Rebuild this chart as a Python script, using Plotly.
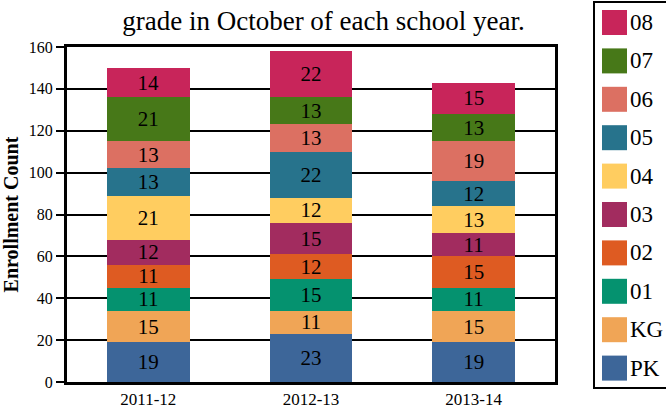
import plotly.graph_objects as go

years = ["2011-12", "2012-13", "2013-14"]
grades = ["PK", "KG", "01", "02", "03", "04", "05", "06", "07", "08"]
pk = [19, 23, 19]
kg = [15, 11, 15]
g01 = [11, 15, 11]
g02 = [11, 12, 15]
g03 = [12, 15, 11]
g04 = [21, 12, 13]
g05 = [13, 22, 12]
g06 = [13, 13, 19]
g07 = [21, 13, 13]
g08 = [14, 22, 15]
series = [pk, kg, g01, g02, g03, g04, g05, g06, g07, g08]
colors = ["#3D6699", "#F0A556", "#05926F", "#DE5B22", "#A22C5F",
          "#FFCD60", "#27738C", "#DC7062", "#477818", "#C8255A"]

W, H = 666, 410
L, R, T, B = 67, 111, 47, 28
pw, ph = W - L - R, H - T - B
FONT = "Liberation Serif"

def px2paper(x, y):
    return (x - L) / pw, (H - B - y) / ph

fig = go.Figure()
for g, vals, c in zip(grades, series, colors):
    fig.add_trace(go.Bar(
        x=years, y=vals, name=g, marker=dict(color=c, line=dict(width=0)),
        text=vals, textposition="inside", insidetextanchor="middle",
        textangle=0, constraintext="none",
        textfont=dict(family=FONT, size=21, color="black"),
        showlegend=False, hoverinfo="skip",
    ))

shapes = []
annotations = []
# legend box
x0, y0 = px2paper(594, 2)
x1, y1 = px2paper(700, 388)
shapes.append(dict(type="rect", xref="paper", yref="paper", x0=x0, x1=x1, y0=y1, y1=y0,
                   line=dict(color="black", width=2), fillcolor="white", layer="above"))
for i, (g, c) in enumerate(reversed(list(zip(grades, colors)))):
    top = 10 + i * 38.4
    sx0, sy0 = px2paper(602, top)
    sx1, sy1 = px2paper(627, top + 25)
    shapes.append(dict(type="rect", xref="paper", yref="paper", x0=sx0, x1=sx1, y0=sy1, y1=sy0,
                       line=dict(width=0), fillcolor=c, layer="above"))
    ax, ay = px2paper(628, top + 12.5)
    annotations.append(dict(text=g, xref="paper", yref="paper", x=ax, y=ay,
                            xanchor="left", yanchor="middle", showarrow=False,
                            font=dict(family=FONT, size=23, color="black")))

fig.update_layout(
    width=W, height=H, barmode="stack", bargap=0.49,
    margin=dict(l=L, r=R, t=T, b=B, autoexpand=False),
    paper_bgcolor="white", plot_bgcolor="white",
    font=dict(family=FONT, color="black"),
    title=dict(text="grade in October of each school year.", x=323.5 / W, xanchor="center",
               y=1 - 21 / H, yanchor="middle", font=dict(family=FONT, size=27, color="black")),
    shapes=shapes, annotations=annotations,
)
fig.update_xaxes(type="category", showline=True, linewidth=3, linecolor="black", mirror=True,
                 ticks="", tickfont=dict(family=FONT, size=17, color="black"),
                 showgrid=False)
fig.update_yaxes(range=[0, 160], dtick=20, showline=True, linewidth=3, linecolor="black",
                 mirror=True, ticks="outside", ticklen=8, tickwidth=2, tickcolor="black",
                 tickfont=dict(family=FONT, size=16, color="black"),
                 showgrid=True, gridcolor="black", gridwidth=2, zeroline=False,
                 title=dict(text="<b>Enrollment Count</b>", standoff=11,
                            font=dict(family=FONT, size=20, color="black")))

fig.write_html("out.html", config={"displayModeBar": False},
               post_script="document.body.style.margin='0';")
